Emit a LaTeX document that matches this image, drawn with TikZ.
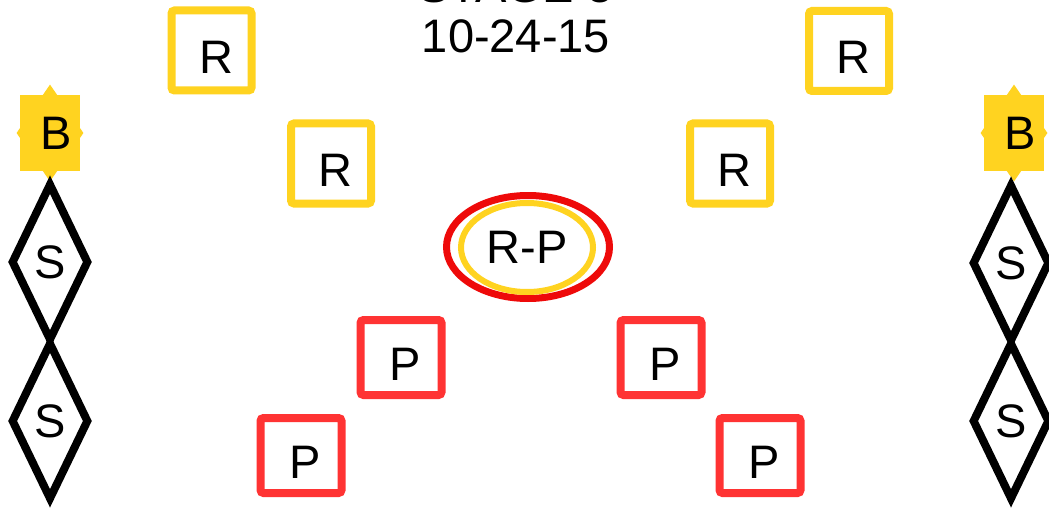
\documentclass[tikz,border=0pt]{standalone}
\usepackage{fontspec}
\setmainfont{Liberation Sans}
\usetikzlibrary{shapes.geometric}
\definecolor{gold}{HTML}{FFD320}
\definecolor{rosered}{HTML}{FF3333}
\definecolor{ringred}{HTML}{EE0A0A}

\begin{document}
\begin{tikzpicture}[
  x=1pt, y=-1pt,
  font=\fontsize{47}{50}\selectfont,
  boxtext/.style={text height=46pt, text depth=0pt, execute at begin node={\hspace*{9pt}}},
  rbox/.style={rectangle, rounded corners=3pt, draw=gold, line width=8pt, boxtext,
               minimum width=80pt, minimum height=80pt, inner sep=0pt},
  pbox/.style={rectangle, rounded corners=3pt, draw=rosered, line width=8pt, boxtext,
               minimum width=81pt, minimum height=75pt, inner sep=0pt},
  sdiam/.style={diamond, draw, line width=8pt, minimum width=78pt,
                minimum height=158pt, inner sep=0pt},
  bstar/.style={diamond, fill=gold, minimum width=67pt, minimum height=97pt, inner sep=0pt},
  bbox/.style={rectangle, fill=gold, minimum width=60pt, minimum height=76pt, inner sep=0pt,
               execute at begin node={\hspace*{12pt}}},
  ring/.style={ellipse, inner sep=0pt}
]
\useasboundingbox (0,0) rectangle (1049,508);

\node[anchor=south, align=center, inner sep=0pt] (title) at (516,53) {STAGE 5\\10-24-15};

% left and right stacks
\node[bstar] (bstarl) at (50,133) {};
\node[bbox] (bl) at (50,133) {B};
\node[sdiam] (sl1) at (50,262) {S};
\node[sdiam] (sl2) at (50,421) {S};

\node[bstar] (bstarr) at (1014,133) {};
\node[bbox] (br) at (1014,133) {B};
\node[sdiam] (sr1) at (1011,263) {S};
\node[sdiam] (sr2) at (1011,421) {S};

% R boxes
\node[rbox] (r1) at (211.5,50.5) {R};
\node[rbox] (r2) at (331,163.5) {R};
\node[rbox] (r3) at (730,163.5) {R};
\node[rbox] (r4) at (849,51) {R};

% centre
\node[ring, draw=ringred, line width=7pt, minimum width=163pt, minimum height=103pt]
  (rpout) at (528,247) {};
\node[ring, draw=gold, line width=6pt, minimum width=132pt, minimum height=89pt]
  (rp) at (527,247.5) {R-P};

% P boxes
\node[pbox] (p1) at (401,357.5) {P};
\node[pbox] (p2) at (301,455.5) {P};
\node[pbox] (p3) at (661,357.5) {P};
\node[pbox] (p4) at (760,455.5) {P};

\end{tikzpicture}
\end{document}
